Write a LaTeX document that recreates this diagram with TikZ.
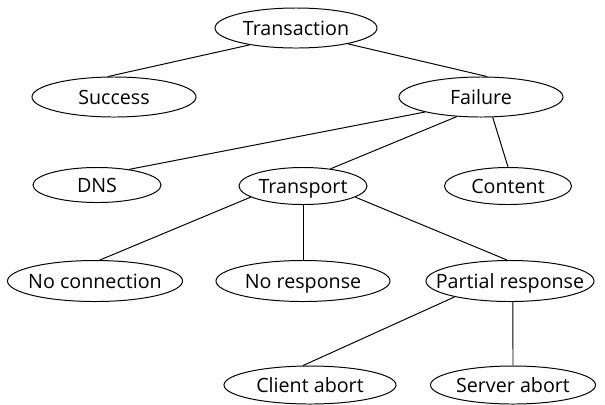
\documentclass[tikz,border=0pt]{standalone}
\usepackage{fontspec}
\setmainfont{Open Sans}
\usetikzlibrary{shapes.geometric}

\begin{document}
\begin{tikzpicture}[
    x=0.025cm, y=-0.025cm,
    every node/.style={ellipse, draw, inner sep=-1cm, line width=0.7pt,
      minimum height=1cm, text height=10pt, text depth=0pt,
      font=\fontsize{14}{16}\selectfont},
    every path/.style={line width=0.7pt},
  ]
  \useasboundingbox (0,0) rectangle (605,404);

  % Root
  \node[minimum width=4.05cm] (trans) at (296,28) {Transaction};

  % Outcome
  \node[minimum width=4.1cm] (succ) at (114,97) {Success};
  \node[minimum width=4.1cm] (fail) at (481,97) {Failure};

  % Failure kinds
  \node[minimum width=3.2cm, minimum height=0.875cm]   (dns)    at (97,185)  {DNS};
  \node[minimum width=3.2cm, minimum height=0.925cm]   (transp) at (303,186) {Transport};
  \node[minimum width=3.175cm, minimum height=0.925cm] (cont)   at (508,186) {Content};

  % Transport failures
  \node[minimum width=4.375cm, minimum height=1.025cm] (noconn)  at (95,281)  {No connection};
  \node[minimum width=4.35cm, minimum height=1.025cm]  (noresp)  at (303,281) {No response};
  \node[minimum width=4.2cm, minimum height=1.025cm]   (partial) at (510,281) {Partial response};

  % Partial response
  \node[minimum width=4.3cm, minimum height=0.95cm]   (client) at (310,385) {Client abort};
  \node[minimum width=4.125cm, minimum height=0.95cm] (server) at (513,385) {Server abort};

  % Tree edges
  \draw (trans.200) -- (succ.107);
  \draw (trans.-17) -- (fail.73);

  \draw (fail.195) -- (dns.26);
  \draw (fail.219) -- (transp.32);
  \draw (fail.-60) -- (cont.north);

  \draw (transp.192)   -- (noconn.77);
  \draw (transp.south) -- (noresp.north);
  \draw (transp.-12)   -- (partial.98);

  \draw (partial.196) -- (client.110);
  \draw (partial.-82) -- (server.north);

\end{tikzpicture}
\end{document}
